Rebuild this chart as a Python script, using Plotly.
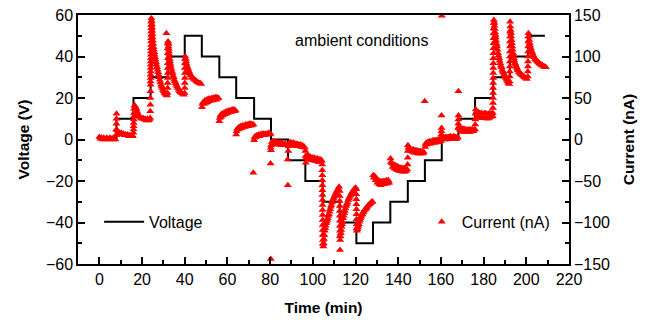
import plotly.graph_objects as go

# Applied voltage staircase: switching times (min) and level held after each switch (V)
volt_time = [0, 8, 16, 24, 32, 40, 48, 56.2, 64.1, 72.5, 80.4, 88.4, 96.5, 104.6,
             112.6, 120.4, 128.2, 136.3, 144.5, 152.5, 160.4, 168.2, 176.0, 184.5,
             192.3, 200.8, 208.7]
volt_level = [0, 10, 20, 30, 40, 50, 40, 30, 20, 10, 0, -10, -20, -30,
              -40, -50, -40, -30, -20, -10, 0, 10, 20, 30,
              40, 50, 50]

# Measured current (nA) versus time (min), grouped by voltage step
current_time = [
    # 0 V
    0.0, 0.5, 1.0, 1.5, 2.0, 2.5, 3.0, 3.5, 4.0, 4.5, 5.0, 5.5, 6.0, 6.5, 7.0, 7.5,
    # 10 V
    7.9, 7.95, 8.0, 8.0, 8.05, 8.3, 8.8, 9.3, 9.8, 10.3, 10.8, 11.3, 11.8, 12.3, 12.8,
    13.3, 13.8, 14.3, 14.8, 15.3, 15.7,
    # 20 V
    15.95, 16.0, 16.05, 16.1, 16.15, 16.2, 16.25, 16.3, 16.5, 16.8, 17.1, 17.4, 17.8,
    18.2, 18.6, 19.0, 19.5, 20.0, 20.5, 21.0, 21.5, 22.0, 22.5, 23.0, 23.5,
    # 30 V
    23.8, 23.85, 23.9, 23.9, 23.95, 24.0, 24.0, 24.02, 24.04, 24.06, 24.08, 24.1,
    24.12, 24.14, 24.16, 24.18, 24.2, 24.22, 24.24, 24.26, 24.28, 24.3, 24.32, 24.34,
    24.36, 24.38,
    24.45, 24.55, 24.65, 24.75, 24.85, 24.95, 25.1, 25.25, 25.4, 25.55, 25.7, 25.9,
    26.1, 26.3, 26.5, 26.75, 27.0, 27.25, 27.5, 27.75, 28.0, 28.3, 28.6, 28.9, 29.2,
    29.5, 29.8, 30.1, 30.5, 30.9, 31.3, 31.7,
    # 40 V
    31.4, 31.95, 32.0, 32.0, 32.03, 32.05, 32.07, 32.09, 32.11, 32.13, 32.15, 32.17,
    32.2, 32.3, 32.4, 32.5, 32.6, 32.7, 32.8, 32.95, 33.1, 33.3, 33.5, 33.75, 34.0,
    34.25, 34.5, 34.8, 35.1, 35.4, 35.7, 36.0, 36.4, 36.8, 37.2, 37.6, 38.0, 38.5,
    39.0, 39.5,
    # 50 V
    39.95, 40.0, 40.02, 40.04, 40.06, 40.08, 40.1, 40.12,
    40.25, 40.45, 40.65, 40.9, 41.15, 41.4, 41.7, 42.0, 42.3, 42.6, 43.0, 43.4, 43.8,
    44.2, 44.7, 45.2, 45.7, 46.2, 46.7, 47.2, 47.7,
    # 40 V (down)
    48.1, 48.3, 48.6, 49.0, 49.4, 49.8, 50.2, 50.6, 51.0, 51.4, 51.8, 52.2, 52.6,
    53.0, 53.4, 53.8, 54.2, 54.6, 55.0, 55.4, 55.8,
    # 30 V (down)
    56.2, 56.4, 56.7, 57.0, 57.4, 57.8, 58.2, 58.6, 59.0, 59.4, 59.8, 60.2, 60.6,
    61.0, 61.4, 61.8, 62.2, 62.6, 63.0, 63.4, 63.8,
    # 20 V (down)
    64.1, 64.3, 64.6, 65.0, 65.4, 65.8, 66.2, 66.6, 67.0, 67.4, 67.8, 68.2, 68.6,
    69.0, 69.4, 69.8, 70.2, 70.6, 71.0, 71.4, 71.8, 72.2,
    # 10 V (down)
    72.1, 72.5, 72.7, 73.0, 73.4, 73.8, 74.2, 74.6, 75.0, 75.4, 75.8, 76.2, 76.6,
    77.0, 77.4, 77.8, 78.2, 78.6, 79.0, 79.4, 79.8, 80.2,
    # 0 V (down)
    80.2, 80.3, 80.3, 80.4, 80.5, 80.8, 81.2, 81.6, 82.0, 82.4, 82.8, 83.2, 83.6,
    84.0, 84.4, 84.8, 85.2, 85.6, 86.0, 86.4, 86.8, 87.2, 87.6, 88.0,
    # -10 V
    88.3, 88.2, 88.5, 88.7, 89.0, 89.4, 89.8, 90.2, 90.6, 91.0, 91.4, 91.8, 92.2,
    92.6, 93.0, 93.4, 93.8, 94.2, 94.6, 95.0, 95.4, 95.8, 96.2,
    # -20 V
    96.5, 96.6, 96.7, 97.0, 97.4, 97.8, 98.2, 98.6, 99.0, 99.4, 99.8, 100.2, 100.6,
    101.0, 101.4, 101.8, 102.2, 102.6, 103.0, 103.4, 103.8, 104.2,
    # -30 V
    104.4, 104.42, 104.44, 104.46, 104.48, 104.5, 104.52, 104.54, 104.56, 104.58,
    104.6, 104.62, 104.64, 104.66, 104.68, 104.7, 104.75,
    104.9, 105.05, 105.2, 105.4, 105.6, 105.8, 106.0, 106.25, 106.5, 106.75, 107.0,
    107.25, 107.5, 107.8, 108.1, 108.4, 108.7, 109.0, 109.35, 109.7, 110.05, 110.4,
    110.75, 111.1, 111.5, 111.9, 112.3,
    # -40 V
    112.55, 112.57, 112.59, 112.61, 112.63, 112.65, 112.67, 112.69, 112.71, 112.73,
    112.8, 112.7,
    112.95, 113.1, 113.3, 113.5, 113.7, 113.95, 114.2, 114.45, 114.7, 115.0, 115.3,
    115.6, 115.9, 116.2, 116.55, 116.9, 117.3, 117.7, 118.1, 118.5, 118.9, 119.3,
    119.7, 120.1,
    # -50 V
    120.3, 120.33, 120.36, 120.39, 120.42, 120.45, 120.48, 120.51, 120.55,
    120.65, 120.85, 121.05, 121.3, 121.55, 121.8, 122.05, 122.3, 122.6, 122.9, 123.2,
    123.5, 123.85, 124.2, 124.55, 124.9, 125.3, 125.7, 126.1, 126.5, 126.9, 127.3,
    127.7, 128.0,
    # -40 V (up)
    128.3, 128.6, 129.0, 129.4, 129.8, 130.2, 130.6, 131.0, 131.4, 131.8, 132.2,
    132.6, 133.0, 133.4, 133.8, 134.2, 134.6, 135.0, 135.4, 135.8,
    # -30 V (up)
    136.4, 136.6, 137.0, 137.4, 137.8, 138.2, 138.6, 139.0, 139.4, 139.8, 140.2,
    140.6, 141.0, 141.4, 141.8, 142.2, 142.6, 143.0, 143.4, 143.8, 144.2,
    # -20 V (up)
    144.4, 144.45, 144.5, 144.55, 144.8, 145.2, 145.6, 146.0, 146.4, 146.8, 147.2,
    147.6, 148.0, 148.4, 148.8, 149.2, 149.6, 150.0, 150.4, 150.8, 151.2, 151.6, 152.0,
    # -10 V (up)
    152.4, 152.6, 152.8, 153.1, 153.5, 153.9, 154.3, 154.7, 155.1, 155.5, 155.9,
    156.3, 156.7, 157.1, 157.5, 157.9, 158.3, 158.7, 159.1, 159.5, 159.9,
    # 0 V (up)
    160.2, 160.25, 160.3, 160.3, 160.4, 160.5, 160.8, 161.2, 161.6, 162.0, 162.4,
    162.8, 163.2, 163.6, 164.0, 164.4, 164.8, 165.2, 165.6, 166.0, 166.4, 166.8,
    167.2, 167.6, 168.0,
    # 10 V (up)
    168.1, 168.15, 168.2, 168.25, 168.2, 168.4, 168.8, 169.2, 169.6, 170.0, 170.4,
    170.8, 171.2, 171.6, 172.0, 172.4, 172.8, 173.2, 173.6, 174.0, 174.4, 174.8,
    175.2, 175.6,
    # 20 V (up)
    176.0, 176.05, 176.1, 176.2, 176.3, 176.6, 177.0, 177.4, 177.8, 178.2, 178.6,
    179.0, 179.4, 179.8, 180.2, 180.6, 181.0, 181.4, 181.8, 182.2, 182.6, 183.0,
    183.4, 183.8, 184.2,
    # 30 V (up)
    184.35, 184.37, 184.39, 184.41, 184.43, 184.45, 184.47, 184.49, 184.51, 184.53,
    184.55, 184.57, 184.59, 184.61, 184.63, 184.65, 184.68, 184.71, 184.75, 184.8,
    184.95, 185.1, 185.25, 185.4, 185.55, 185.7, 185.9, 186.1, 186.3, 186.5, 186.75,
    187.0, 187.25, 187.5, 187.8, 188.1, 188.4, 188.7, 189.0, 189.35, 189.7, 190.05,
    190.4, 190.8, 191.2, 191.6, 192.0,
    # 40 V (up)
    192.2, 192.22, 192.24, 192.26, 192.28, 192.3, 192.32, 192.34, 192.36, 192.4,
    192.44, 192.4,
    192.5, 192.65, 192.8, 192.95, 193.1, 193.25, 193.4, 193.6, 193.8, 194.0, 194.2,
    194.45, 194.7, 195.0, 195.3, 195.6, 195.9, 196.2, 196.6, 197.0, 197.4, 197.8,
    198.2, 198.7, 199.2, 199.7, 200.2,
    # 50 V (up)
    200.7, 200.73, 200.76, 200.79, 200.82, 200.85, 200.88, 200.91, 200.95,
    201.0, 201.2, 201.4, 201.6, 201.85, 202.1, 202.4, 202.7, 203.0, 203.35, 203.7,
    204.1, 204.5, 204.9, 205.3, 205.7, 206.1, 206.5, 206.9, 207.3, 207.7, 208.1,
    208.5, 208.9, 209.2,
]
current_na = [
    # 0 V
    3, 1, 2, 0, 2, 1, 0, 2, 1, 0, 2, 1, 0, 2, 1, 0,
    # 10 V
    5, 12, 19, 25, 31, 11, 9, 8, 7, 8, 6, 7, 5, 6, 5,
    6, 4, 5, 4, 5, 4,
    # 20 V
    8, 12, 16, 20, 24, 28, 32, 37, 41, 40, 38, 36, 33,
    30, 28, 27, 26, 25, 26, 24, 25, 23, 25, 23, 24,
    # 30 V
    26, 34, 42, 50, 58, 66, 70, 74, 78, 82, 86, 90,
    94, 98, 102, 106, 110, 114, 118, 122, 126, 130, 134, 138,
    142, 146,
    143, 139, 135, 131, 127, 123, 119, 115, 111, 108, 105, 102,
    99, 96, 93, 90, 87, 84, 81, 78, 75, 72, 69, 66, 64,
    62, 60, 58, 56, 55, 54, 53,
    # 40 V
    128, 56, 62, 68, 74, 80, 86, 92, 98, 104, 110, 116,
    118, 115, 112, 109, 106, 103, 100, 97, 94, 91, 88, 85, 82,
    80, 77, 75, 72, 70, 68, 66, 64, 62, 60, 58, 57, 56,
    55, 54,
    # 50 V
    56, 62, 68, 74, 80, 86, 92, 97,
    100, 97, 94, 91, 88, 86, 84, 82, 80, 78, 77, 75, 74,
    73, 72, 71, 70, 69, 68, 68, 67,
    # 40 V (down)
    39, 43, 45, 43, 47, 44, 48, 45, 49, 46, 49, 47, 50,
    47, 50, 48, 51, 48, 51, 49, 50,
    # 30 V (down)
    22, 26, 29, 27, 31, 29, 32, 30, 33, 31, 34, 32, 35,
    33, 35, 33, 36, 34, 36, 34, 35,
    # 20 V (down)
    6, 10, 13, 12, 15, 13, 16, 14, 17, 15, 17, 15, 18,
    16, 18, 16, 19, 17, 19, 17, 18, 18,
    # 10 V (down)
    -40, -1, 2, 4, 3, 5, 4, 6, 4, 6, 5, 7, 5,
    7, 5, 7, 6, 7, 6, 8, 6, 7,
    # 0 V (down)
    -29, -144, -10, -13, -7, -3, -5, -2, -5, -3, -6, -3, -6,
    -4, -6, -4, -7, -4, -7, -5, -7, -5, -7, -6,
    # -10 V
    -55, -24, -14, -8, -5, -3, -6, -4, -7, -4, -7, -5, -8,
    -5, -8, -6, -8, -6, -9, -7, -9, -8, -10,
    # -20 V
    -14, -20, -28, -22, -19, -23, -20, -24, -21, -25, -22, -25, -22,
    -26, -23, -26, -23, -27, -24, -27, -24, -26,
    # -30 V
    -30, -37, -43, -49, -55, -61, -67, -73, -79, -85,
    -91, -97, -103, -109, -115, -121, -126,
    -129, -125, -120, -115, -110, -107, -104, -101, -99, -97, -95,
    -92, -90, -87, -84, -81, -79, -76, -73, -71, -69, -67,
    -65, -63, -61, -59, -57,
    # -40 V
    -62, -68, -74, -80, -86, -92, -98, -104, -110, -116,
    -121, -133,
    -117, -113, -109, -105, -102, -99, -95, -92, -89, -86, -83,
    -80, -78, -76, -73, -71, -69, -67, -65, -63, -62, -60,
    -59, -58,
    # -50 V
    -60, -66, -72, -78, -84, -90, -96, -102, -107,
    -110, -108, -106, -104, -102, -99, -97, -95, -93, -91, -90,
    -88, -87, -85, -84, -83, -82, -80, -79, -78, -77, -76,
    -75, -75,
    # -40 V (up)
    -43, -46, -44, -49, -47, -52, -49, -54, -50, -55, -51,
    -54, -50, -54, -50, -53, -49, -53, -49, -52,
    # -30 V (up)
    -23, -27, -29, -33, -30, -35, -31, -36, -32, -37, -33,
    -38, -34, -38, -34, -39, -35, -39, -35, -38, -36,
    # -20 V (up)
    -30, -22, -14, -7, -10, -13, -11, -14, -12, -15, -12,
    -16, -13, -16, -13, -17, -14, -17, -14, -17, -15, -17, -15,
    # -10 V (up)
    46, -9, -6, -4, -6, -3, -5, -2, -5, -2, -4,
    -1, -4, -1, -4, -1, -3, 0, -3, 0, -2,
    # 0 V (up)
    6, 10, 14, 29, 149, 4, 1, 3, 0, 3, 0,
    3, 1, 3, 1, 4, 1, 3, 1, 4, 1, 3,
    1, 3, 2,
    # 10 V (up)
    14, 19, 24, 29, 58, 15, 12, 14, 10, 13, 9,
    13, 9, 12, 9, 12, 9, 12, 9, 12, 10, 12,
    10, 12,
    # 20 V (up)
    12, 18, 24, 31, 36, 33, 28, 33, 27, 32, 26,
    32, 26, 31, 26, 32, 26, 31, 25, 31, 26, 32,
    27, 31, 28,
    # 30 V (up)
    32, 38, 44, 50, 56, 62, 68, 74, 80, 86,
    92, 98, 104, 110, 116, 122, 128, 134, 140, 144,
    141, 137, 133, 129, 126, 123, 119, 115, 112, 108, 104,
    101, 98, 95, 92, 89, 87, 84, 82, 80, 78, 76,
    74, 72, 70, 68, 67,
    # 40 V (up)
    70, 76, 82, 88, 94, 100, 106, 112, 118, 124,
    130, 142,
    136, 132, 128, 124, 120, 116, 112, 108, 104, 101, 98,
    95, 92, 90, 88, 86, 84, 83, 81, 80, 79, 78,
    77, 76, 75, 74, 73,
    # 50 V (up)
    76, 82, 88, 94, 100, 106, 112, 118, 124,
    128, 124, 120, 116, 113, 110, 107, 105, 103, 101, 99,
    97, 96, 95, 94, 93, 92, 91, 90, 90, 89, 88,
    88, 87, 87,
]

FONT = "Liberation Sans, Arial, sans-serif"

fig = go.Figure()

fig.add_trace(go.Scatter(
    x=volt_time, y=volt_level, mode="lines", name="Voltage",
    line=dict(color="black", width=2, shape="hv"),
    yaxis="y", legend="legend", showlegend=True,
))

fig.add_trace(go.Scatter(
    x=current_time, y=current_na, mode="markers", name="Current (nA)",
    marker=dict(symbol="triangle-up", size=7, color="#ff0000", line=dict(width=0)),
    yaxis="y2", legend="legend2", showlegend=True,
))

axis_common = dict(
    showgrid=False, zeroline=False, showline=True, linecolor="black", linewidth=1.5,
    ticks="inside", ticklen=7, tickwidth=1.5, tickcolor="black",
    tickfont=dict(family=FONT, size=16, color="black"),
    automargin=False,
)
title_font = dict(family=FONT, size=15.5, color="black")
minor_common = dict(ticks="inside", ticklen=4, tick0=0, tickwidth=1.5, tickcolor="black")

fig.update_layout(
    width=648, height=320,
    margin=dict(l=78, r=79, t=15, b=56, autoexpand=False),
    paper_bgcolor="white", plot_bgcolor="white",
    font=dict(family=FONT, size=16, color="black"),
    showlegend=True,
    xaxis=dict(
        range=[-10, 220], tick0=0, dtick=20, mirror=True,
        title=dict(text="<b>Time (min)</b>", font=title_font, standoff=15),
        minor=dict(dtick=10, **minor_common),
        **axis_common,
    ),
    yaxis=dict(
        range=[-60, 60], tick0=0, dtick=20,
        title=dict(text="<b>Voltage (V)</b>", font=title_font, standoff=12),
        minor=dict(dtick=10, **minor_common),
        **axis_common,
    ),
    yaxis2=dict(
        range=[-150, 150], tick0=0, dtick=50, overlaying="y", side="right",
        title=dict(text="<b>Current (nA)</b>", font=title_font, standoff=14),
        minor=dict(dtick=25, **minor_common),
        **axis_common,
    ),
    legend=dict(
        x=0.043, y=0.169, xanchor="left", yanchor="middle", itemwidth=40,
        bgcolor="rgba(0,0,0,0)", font=dict(family=FONT, size=16),
    ),
    legend2=dict(
        x=0.70, y=0.169, xanchor="left", yanchor="middle",
        bgcolor="rgba(0,0,0,0)", font=dict(family=FONT, size=16),
    ),
    annotations=[dict(
        text="ambient conditions", xref="paper", yref="paper",
        x=0.578, y=0.896, xanchor="center", yanchor="middle", showarrow=False,
        font=dict(family=FONT, size=16, color="black"),
    )],
)

fig.write_html("out.html")
